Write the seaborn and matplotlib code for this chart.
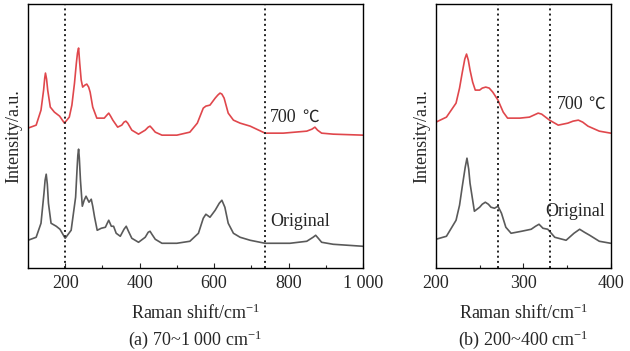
import matplotlib
matplotlib.use("Agg")
import matplotlib.pyplot as plt
from matplotlib.ticker import FixedLocator, MultipleLocator
import seaborn as sns
import pandas as pd

# (a) full range, intensities (arbitrary units)
wide_x_700 = [100, 122, 135, 142, 145, 147, 150, 153, 160, 171, 185, 198, 211, 218, 225, 230, 233, 236,
              239, 243, 247, 253, 258, 263, 267, 274, 285, 305, 312, 317, 322, 328, 341, 352, 358, 363,
              368, 379, 397, 415, 423, 428, 433, 442, 460, 500, 535, 555, 571, 578, 589, 603, 610, 616,
              621, 627, 638, 652, 670, 697, 737, 786, 849, 863, 871, 878, 889, 920, 1000]
wide_y_700 = [140, 143, 158, 178, 190, 195, 189, 178, 161, 156, 152, 145, 151, 163, 185, 205, 215, 220,
              205, 188, 181, 183, 184, 181, 176, 161, 150, 150, 153, 155, 152, 148, 141, 143, 146, 147,
              145, 138, 134, 138, 141, 142, 140, 136, 133, 133, 136, 145, 160, 162, 163, 170, 173, 175,
              174, 170, 155, 148, 145, 142, 135, 135, 137, 139, 141, 138, 135, 134, 133]
wide_x_orig = [100, 122, 135, 143, 146, 149, 152, 155, 162, 176, 186, 200, 216, 228, 232, 234, 236, 238,
               241, 246, 251, 256, 260, 264, 270, 274, 279, 286, 297, 308, 313, 317, 324, 330, 337, 348,
               358, 364, 370, 379, 397, 415, 423, 428, 433, 442, 460, 500, 535, 558, 571, 578, 589, 603,
               614, 621, 629, 638, 652, 670, 697, 737, 804, 849, 866, 873, 880, 889, 920, 1000]
wide_y_orig = [28, 31, 45, 75, 88, 94, 84, 65, 45, 42, 39, 30, 38, 71, 100, 113, 119, 110,
               88, 62, 68, 72, 69, 66, 69, 62, 51, 38, 40, 41, 45, 48, 42, 42, 35, 32,
               39, 42, 37, 30, 26, 31, 36, 37, 34, 29, 25, 25, 27, 35, 50, 54, 51, 58,
               65, 68, 61, 45, 35, 31, 28, 25, 25, 27, 31, 33, 30, 26, 24, 22]

# (b) zoomed range
zoom_x_700 = [200, 212, 223, 227, 230, 233, 235, 237, 239, 242, 245, 250, 253, 257, 261, 265, 271, 277,
              282, 296, 307, 312, 317, 321, 324, 330, 340, 351, 357, 363, 368, 374, 387, 400]
zoom_y_700 = [146, 151, 165, 180, 195, 209, 214, 208, 198, 186, 178, 178, 180, 181, 180, 176, 168, 156,
              150, 150, 151, 153, 155, 154, 152, 148, 143, 145, 147, 148, 146, 142, 137, 135]
zoom_x_orig = [200, 212, 223, 227, 230, 233.5, 235.5, 237.5, 239, 244, 250, 253, 256.5, 260, 263, 267,
               271, 275, 280, 286, 298, 309, 314, 318, 322.5, 328, 336, 349, 358, 364.5, 370, 376, 387, 400]
zoom_y_orig = [29, 32, 48, 63, 81, 101, 110, 99, 85, 57, 61, 64, 66, 64, 61, 60,
               62, 55, 41, 35, 37, 39, 42, 44, 40, 39, 31, 28, 35, 39, 36, 33, 27, 25]

wide_marks = [200, 738]
zoom_marks = [271, 330]
wide_ticks = [200, 400, 600, 800, 1000]
wide_labels = ["200", "400", "600", "800", "1 000"]
zoom_ticks = [200, 300, 400]
zoom_labels = ["200", "300", "400"]

red = "#e0474c"
grey = "#5a5a5a"
fs = 13

sns.set_style("ticks")
plt.rcParams["font.family"] = ["Liberation Serif", "Noto Sans CJK SC", "DejaVu Serif"]
plt.rcParams["mathtext.fontset"] = "custom"
plt.rcParams["mathtext.rm"] = "Liberation Serif"
plt.rcParams["mathtext.default"] = "regular"

fig = plt.figure(figsize=(6.3, 3.51), dpi=100)
ax1 = fig.add_axes([0.0444, 0.2356, 0.5317, 0.753])
ax2 = fig.add_axes([0.692, 0.2356, 0.2773, 0.753])


def draw(ax, x7, y7, xo, yo, marks, xlim, ticks, labels, minor, lab7, labo, caption):
    d7 = pd.DataFrame({"x": x7, "y": y7})
    do = pd.DataFrame({"x": xo, "y": yo})
    sns.lineplot(data=d7, x="x", y="y", ax=ax, color=red, lw=1.2, sort=False, estimator=None,
                 solid_joinstyle="round")
    sns.lineplot(data=do, x="x", y="y", ax=ax, color=grey, lw=1.2, sort=False, estimator=None,
                 solid_joinstyle="round")
    for m in marks:
        ax.axvline(m, color="#222222", ls=":", lw=1.4)
    ax.set_xlim(*xlim)
    ax.set_ylim(0, 264)
    ax.xaxis.set_major_locator(FixedLocator(ticks))
    ax.set_xticklabels(labels)
    ax.xaxis.set_minor_locator(MultipleLocator(minor))
    ax.tick_params(axis="x", which="major", direction="in", length=3.5, width=0.8, labelsize=fs, pad=5)
    ax.tick_params(axis="x", which="minor", direction="in", length=2, width=0.8)
    ax.set_yticks([])
    for s in ax.spines.values():
        s.set_linewidth(1.0)
        s.set_color("black")
    ax.set_xlabel(r"Raman shift/cm$^{-1}$", fontsize=fs, labelpad=8)
    ax.set_ylabel("Intensity/a.u.", fontsize=fs, labelpad=4)
    t = ax.text(lab7[0], lab7[1], "700", fontsize=fs, va="center")
    ax.annotate("℃", xy=(1, 0.5), xycoords=t, xytext=(4, 0), textcoords="offset points",
                fontsize=fs - 1, va="center", family=["Noto Sans CJK SC"])
    ax.text(labo[0], labo[1], "Original", fontsize=fs, va="center")
    pos = ax.get_position()
    fig.text((pos.x0 + pos.x1) / 2, 1 - 340 / 351, caption, fontsize=fs, ha="center", va="center")


draw(ax1, wide_x_700, wide_y_700, wide_x_orig, wide_y_orig, wide_marks, (100, 1000),
     wide_ticks, wide_labels, 100, (751, 151), (751, 47), r"(a) 70~1 000 cm$^{-1}$")
draw(ax2, zoom_x_700, zoom_y_700, zoom_x_orig, zoom_y_orig, zoom_marks, (200, 400),
     zoom_ticks, zoom_labels, 50, (338, 164), (325, 57), r"(b) 200~400 cm$^{-1}$")

fig.savefig("out.png", dpi=100)
